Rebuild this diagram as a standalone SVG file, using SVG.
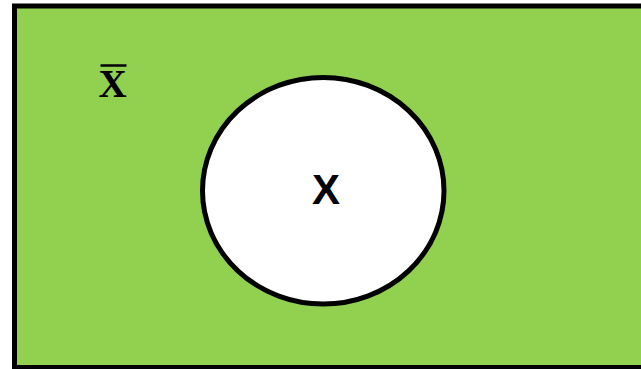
<svg xmlns="http://www.w3.org/2000/svg" width="641" height="369" viewBox="0 0 641 369">
<style>
.lbl{fill:#000;font-weight:bold;text-anchor:middle}
</style>
<rect width="641" height="369" fill="#fff"/>
<g id="universe">
<rect x="14.5" y="6" width="640" height="361.5" fill="#92d050" stroke="#000" stroke-width="5"/>
<text class="lbl" x="112.5" y="96.5" font-family="'Liberation Serif', serif" font-size="39">X</text>
<line x1="100.5" y1="65.5" x2="126.5" y2="65.5" stroke="#000" stroke-width="2.5"/>
</g>
<g id="setX">
<ellipse cx="323.25" cy="190.75" rx="120.75" ry="113.25" fill="#fff" stroke="#000" stroke-width="5"/>
<text class="lbl" x="326" y="204.3" font-family="'Liberation Sans', sans-serif" font-size="42">X</text>
</g>
</svg>
